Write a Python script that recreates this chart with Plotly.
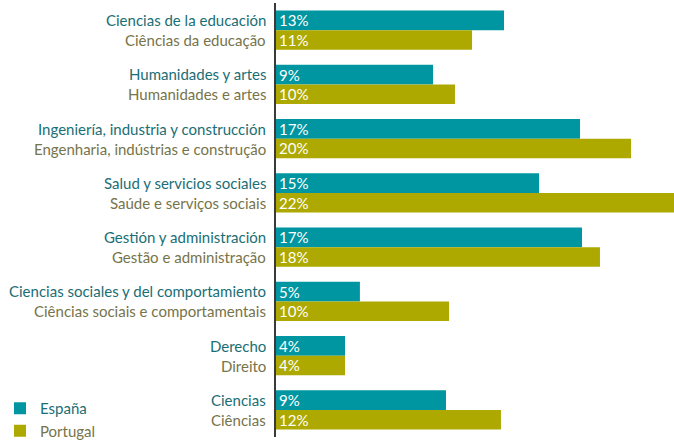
import plotly.graph_objects as go

categories_es = ["Ciencias de la educación", "Humanidades y artes",
                 "Ingeniería, industria y construcción", "Salud y servicios sociales",
                 "Gestión y administración", "Ciencias sociales y del comportamiento",
                 "Derecho", "Ciencias"]
categories_pt = ["Ciências da educação", "Humanidades e artes",
                 "Engenharia, indústrias e construção", "Saúde e serviços sociais",
                 "Gestão e administração", "Ciências sociais e comportamentais",
                 "Direito", "Ciências"]
espana_values = [12.69, 8.74, 16.92, 14.64, 17.03, 4.67, 3.84, 9.46]
portugal_values = [10.91, 9.96, 19.76, 22.3, 18.03, 9.63, 3.84, 12.52]
espana_labels = ["13%", "9%", "17%", "15%", "17%", "5%", "4%", "9%"]
portugal_labels = ["11%", "10%", "20%", "22%", "18%", "10%", "4%", "12%"]

TEAL = "#0096a1"
OLIVE = "#ada900"
TEAL_TXT = "#1a6e75"
OLIVE_TXT = "#76744a"
FONT = "Lato"

fig = go.Figure()
fig.add_trace(go.Bar(
    y=categories_es, x=espana_values, orientation="h",
    name=f"<span style='color:{TEAL_TXT}'>España</span>", legendgroup="es",
    marker=dict(color=TEAL, line=dict(width=0)),
    text=espana_labels, textposition="inside", insidetextanchor="start",
    constraintext="none",
    textfont=dict(color="white", size=15, family=FONT), textangle=0,
))
fig.add_trace(go.Bar(
    y=categories_es, x=portugal_values, orientation="h",
    name=f"<span style='color:{OLIVE_TXT}'>Portugal</span>", legendgroup="pt",
    marker=dict(color=OLIVE, line=dict(width=0)),
    text=portugal_labels, textposition="inside", insidetextanchor="start",
    constraintext="none",
    textfont=dict(color="white", size=15, family=FONT), textangle=0,
))

for es, pt in zip(categories_es, categories_pt):
    fig.add_annotation(x=0, y=es, xref="x", yref="y", text=es, showarrow=False,
                       xanchor="right", yanchor="middle", xshift=-8, yshift=10,
                       font=dict(color=TEAL_TXT, size=15, family=FONT))
    fig.add_annotation(x=0, y=es, xref="x", yref="y", text=pt, showarrow=False,
                       xanchor="right", yanchor="middle", xshift=-8, yshift=-10,
                       font=dict(color=OLIVE_TXT, size=15, family=FONT))

fig.update_layout(
    width=674, height=447,
    margin=dict(l=276, r=0, t=3, b=10, autoexpand=False),
    barmode="group", bargap=0.28, bargroupgap=0,
    plot_bgcolor="white", paper_bgcolor="white",
    font=dict(family=FONT),
    showlegend=True,
    legend=dict(xref="container", yref="container", x=0.0, y=0.0,
                xanchor="left", yanchor="bottom", traceorder="normal",
                font=dict(size=15, family=FONT), bgcolor="rgba(0,0,0,0)",
                itemwidth=30, tracegroupgap=8),
)
fig.update_xaxes(range=[0, 22.15], showgrid=False, zeroline=False,
                 showticklabels=False, showline=False, fixedrange=True)
fig.update_yaxes(autorange="reversed", showgrid=False, zeroline=False,
                 showticklabels=False, showline=True, linecolor="#3a3a3a",
                 linewidth=2, ticks="", fixedrange=True)

fig.write_html("out.html", config={"displayModeBar": False},
               post_script="document.body.style.margin='0';document.body.style.overflow='hidden';")
